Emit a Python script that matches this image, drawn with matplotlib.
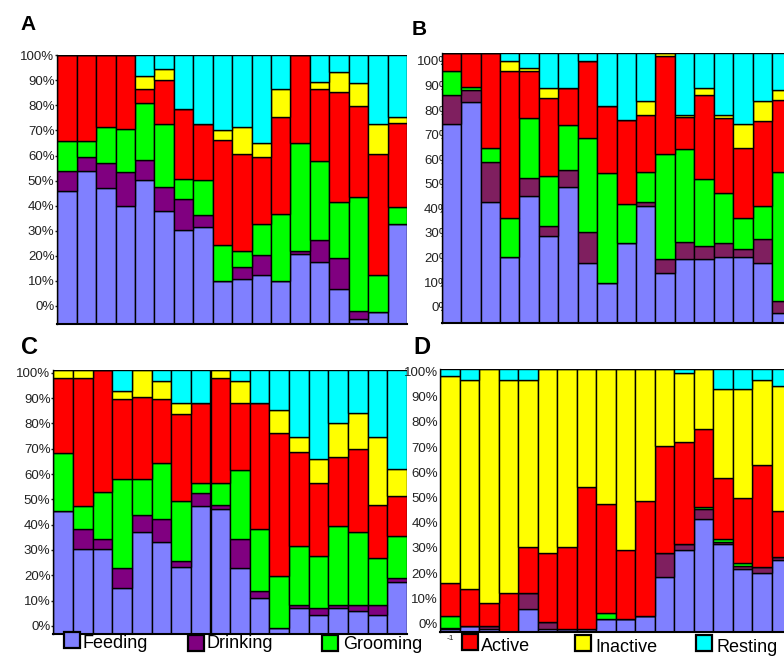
import numpy as np
import matplotlib
matplotlib.use('Agg')
import matplotlib.pyplot as plt
from matplotlib.patches import Rectangle

plt.rcParams['font.family'] = ['Liberation Sans', 'DejaVu Sans']

W, H = 784, 657

CATEGORIES = ['Feeding', 'Drinking', 'Grooming', 'Active', 'Inactive', 'Resting']
TICKS = np.arange(0, 101, 10)

# Each list holds the upper edge of that behaviour layer in every bar
# (cumulative, in axis percent); resting always runs up to the axis top.

# panel A
A_FEEDING = [46.0, 53.9, 47.2, 39.9, 50.3, 38.0, 30.3, 31.3, 10.0, 10.9, 12.2, 10.0, 20.6, 17.7, 6.9, -5.2, -2.3, 32.7]
A_DRINKING = [53.9, 59.6, 56.9, 53.6, 58.2, 47.3, 42.7, 36.4, 10.0, 15.4, 20.3, 10.0, 22.1, 26.3, 19.3, -2.0, -2.3, 32.7]
A_GROOMING = [66.0, 66.0, 71.5, 70.6, 80.9, 72.6, 50.5, 50.1, 24.3, 22.1, 32.7, 36.6, 64.9, 58.0, 41.6, 43.6, 12.2, 39.4]
A_ACTIVE = [100, 100, 100, 100, 86.6, 90.2, 78.5, 72.6, 66.2, 60.5, 59.6, 75.5, 100, 86.6, 85.2, 79.8, 60.6, 72.9]
A_INACTIVE = [100, 100, 100, 100, 91.9, 94.4, 78.5, 72.6, 70.2, 71.5, 64.9, 86.6, 100, 89.2, 93.4, 88.8, 72.6, 75.5]
A_LIMITS = (-7.2, 100.0)

# panel B
B_FEEDING = [74.4, 83.4, 42.7, 20.4, 45.2, 28.9, 48.6, 17.9, 9.5, 25.8, 41.1, 13.6, 19.3, 19.3, 20.4, 20.4, 17.9, -2.7]
B_DRINKING = [86.2, 88.2, 58.8, 20.4, 52.2, 32.8, 55.6, 30.3, 9.5, 25.8, 42.7, 19.3, 26.2, 24.7, 26.1, 23.3, 27.4, 2.4]
B_GROOMING = [96.1, 89.3, 64.5, 36.0, 76.9, 53.3, 73.8, 68.7, 54.5, 41.8, 55.0, 62.0, 64.2, 52.0, 46.4, 36.0, 41.0, 55.0]
B_ACTIVE = [103.1, 103.1, 103.1, 96.1, 96.1, 84.8, 88.9, 100.1, 81.7, 76.0, 78.0, 101.8, 77.1, 86.2, 76.9, 64.7, 75.6, 83.9]
B_INACTIVE = [103.1, 103.1, 103.1, 100.1, 97.3, 89.1, 88.9, 100.1, 81.7, 76.0, 83.7, 103.1, 78.0, 88.9, 78.0, 74.2, 83.7, 88.2]
B_LIMITS = (-6.5, 103.1)

# panel C
C_FEEDING = [45.5, 30.3, 30.3, 14.9, 37.2, 33.0, 23.2, 47.5, 46.1, 22.8, 10.9, -0.9, 7.2, 4.3, 7.2, 5.9, 4.3, 17.5]
C_DRINKING = [45.5, 38.3, 34.3, 22.8, 43.8, 42.2, 25.7, 52.6, 47.8, 34.3, 13.6, -0.9, 8.3, 7.2, 8.3, 8.3, 8.3, 18.8]
C_GROOMING = [68.2, 47.5, 52.8, 57.9, 57.9, 64.5, 49.5, 56.3, 56.3, 61.6, 38.3, 19.7, 31.6, 27.8, 39.6, 37.2, 26.7, 35.7]
C_ACTIVE = [98.0, 98.0, 101.1, 89.5, 90.5, 89.5, 83.7, 87.9, 98.0, 87.9, 87.9, 76.1, 68.6, 56.3, 66.8, 69.7, 47.8, 51.3]
C_INACTIVE = [101.1, 101.1, 101.1, 92.9, 101.1, 96.8, 87.9, 87.9, 101.1, 96.8, 87.9, 85.3, 74.7, 65.8, 80.3, 84.3, 74.7, 61.8]
C_LIMITS = (-3.2, 101.1)

# panel D
D_FEEDING = [-2.4, -0.9, -2.3, -3.3, 5.6, -2.3, -2.3, -2.3, 1.7, 1.7, 3.0, 18.5, 29.1, 41.3, 31.4, 21.5, 20.1, 25.2]
D_DRINKING = [-1.7, -0.9, -0.9, -3.3, 11.9, 0.7, -2.3, -2.3, 1.7, 1.7, 3.0, 27.8, 31.5, 45.4, 32.2, 22.8, 22.5, 26.5]
D_GROOMING = [3.0, -0.9, -0.9, -3.3, 11.9, 0.7, -2.3, -2.3, 4.2, 1.7, 3.0, 27.8, 31.5, 46.4, 33.4, 23.8, 22.5, 26.5]
D_ACTIVE = [16.2, 13.6, 8.2, 11.9, 30.2, 27.8, 30.2, 54.0, 47.4, 29.1, 48.6, 70.6, 72.2, 77.1, 57.6, 49.9, 62.9, 44.6]
D_INACTIVE = [98.4, 96.7, 100.9, 96.7, 96.7, 100.9, 100.9, 100.9, 100.9, 100.9, 100.9, 100.9, 99.6, 100.9, 93.0, 93.0, 96.7, 94.3]
D_LIMITS = (-3.3, 100.9)

FEEDING_C = '#8080ff'
PURPLE_C = '#800080'
MAROON_C = '#7f1f5f'
GROOMING_C = '#00ff00'
ACTIVE_C = '#ff0000'
INACTIVE_C = '#ffff00'
RESTING_C = '#00ffff'


def px_axes(fig, left, top, right, bottom):
    '''
    Adds an axes given its box in pixels measured from the top left.
    '''
    return fig.add_axes([left / W, 1 - bottom / H, (right - left) / W,
                         (bottom - top) / H])


def stacked_panel(ax, layers, limits, drink_colour, tick_len=1.5,
                  label_pad=0.5):
    '''
    Draws one panel of touching 100% stacked bars.

    layers is a list of the upper edges for feeding, drinking,
    grooming, active and inactive; resting fills up to the axis top.
    '''
    lo, hi = limits
    colours = [FEEDING_C, drink_colour, GROOMING_C, ACTIVE_C, INACTIVE_C,
               RESTING_C]
    n = len(layers[0])
    x = np.arange(n)
    tops = [np.asarray(l, dtype=float) for l in layers] + [np.full(n, hi)]
    bottom = np.full(n, lo)
    for top, colour in zip(tops, colours):
        ax.bar(x, top - bottom, bottom=bottom, width=1.0, align='edge',
               color=colour, edgecolor='black', linewidth=1.0)
        bottom = top

    ax.set_xlim(0, n)
    ax.set_ylim(lo, hi)
    ax.set_xticks([])
    ax.set_yticks(TICKS)
    ax.set_yticklabels(['%d%%' % t for t in TICKS])
    ax.tick_params(axis='y', length=tick_len, width=1.0, pad=label_pad,
                   labelsize=9.5, colors='#222222')
    for side in ['top', 'right']:
        ax.spines[side].set_visible(False)
    ax.spines['left'].set_linewidth(1.0)
    ax.spines['bottom'].set_linewidth(1.5)
    # keep the labels beneath the bars where they overlap
    ax.yaxis.set_zorder(0.5)


fig = plt.figure(figsize=(W / 100, H / 100), dpi=100)

ax_a = px_axes(fig, 57.3, 55.3, 57.3 + 18 * 19.43, 324.0)
stacked_panel(ax_a, [A_FEEDING, A_DRINKING, A_GROOMING, A_ACTIVE, A_INACTIVE],
              A_LIMITS, PURPLE_C)

ax_b = px_axes(fig, 441.7, 53.3, 441.7 + 18 * 19.43, 322.7)
stacked_panel(ax_b, [B_FEEDING, B_DRINKING, B_GROOMING, B_ACTIVE, B_INACTIVE],
              B_LIMITS, MAROON_C, tick_len=0, label_pad=-6.5)

ax_c = px_axes(fig, 53.3, 370.0, 53.3 + 18 * 19.65, 634.0)
stacked_panel(ax_c, [C_FEEDING, C_DRINKING, C_GROOMING, C_ACTIVE, C_INACTIVE],
              C_LIMITS, PURPLE_C)

ax_d = px_axes(fig, 440.0, 369.3, 440.0 + 18 * 19.53, 631.7)
stacked_panel(ax_d, [D_FEEDING, D_DRINKING, D_GROOMING, D_ACTIVE, D_INACTIVE],
              D_LIMITS, MAROON_C, tick_len=0, label_pad=1.5)

# panel letters
for letter, x, y, size in [('A', 20.5, 30.0, 15), ('B', 411.5, 35.0, 15),
                           ('C', 20.5, 354.0, 17), ('D', 413.0, 354.0, 17)]:
    fig.text(x / W, 1 - y / H, letter, fontsize=size, fontweight='bold',
             va='baseline', ha='left')

fig.text(447 / W, 1 - 640 / H, '-1', fontsize=6, va='baseline', ha='left',
         color='#222222')

# legend along the bottom edge
legend_colours = [FEEDING_C, PURPLE_C, GROOMING_C, ACTIVE_C, INACTIVE_C,
                  RESTING_C]
box_x = [64, 188, 322, 462, 575, 696]
box_top = [632, 635, 635, 634, 635, 635]
text_x = [82, 206, 343, 481, 595, 717]
text_base = [648.5, 648.5, 649, 651, 652, 652]
for name, colour, bx, bt, tx, tb in zip(CATEGORIES, legend_colours, box_x,
                                        box_top, text_x, text_base):
    fig.add_artist(Rectangle((bx / W, 1 - (bt + 16) / H), 16 / W, 16 / H,
                             transform=fig.transFigure, facecolor=colour,
                             edgecolor='black', linewidth=1.6))
    fig.text(tx / W, 1 - tb / H, name, fontsize=13, va='baseline', ha='left')

fig.savefig('out.png', dpi=100)
